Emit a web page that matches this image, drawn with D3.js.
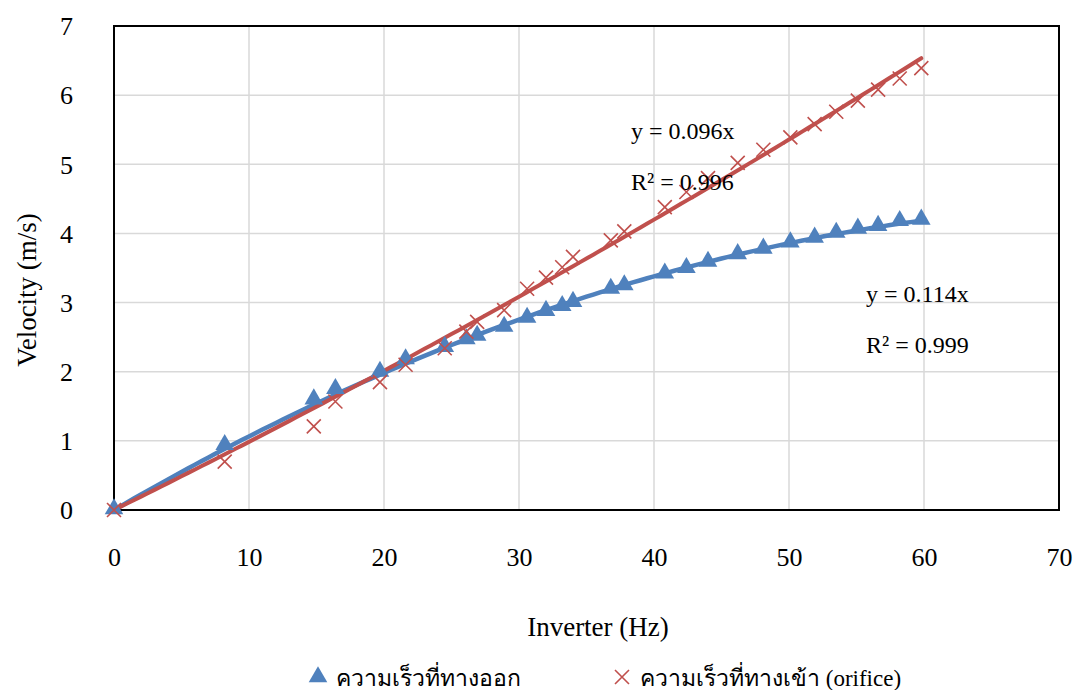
<!DOCTYPE html>
<html>
<head>
<meta charset="utf-8">
<script src="https://cdn.jsdelivr.net/npm/d3@7/dist/d3.min.js"></script>
<style>
  html, body { margin: 0; padding: 0; background: #fff; }
  svg { display: block; }
</style>
</head>
<body>
<svg id="chart" width="1078" height="690"></svg>
<script>
// Inverter frequency (Hz) for each measurement
const frequency = [0, 8.2, 14.8, 16.4, 19.7, 21.6, 24.5, 26.1, 26.9, 28.9, 30.6, 32.0, 33.2, 34.0,
  36.8, 37.8, 40.8, 42.4, 44.0, 46.2, 48.1, 50.1, 51.9, 53.5, 55.1, 56.6, 58.2, 59.8];
// Outlet velocity (m/s)
const outletVelocity = [0, 0.93, 1.59, 1.74, 1.99, 2.17, 2.35, 2.46, 2.51, 2.64, 2.77, 2.87, 2.94, 3.00,
  3.19, 3.24, 3.41, 3.49, 3.58, 3.69, 3.77, 3.86, 3.93, 4.00, 4.06, 4.10, 4.17, 4.19];
// Inlet (orifice) velocity (m/s)
const inletVelocity = [0, 0.70, 1.21, 1.57, 1.85, 2.10, 2.34, 2.58, 2.72, 2.89, 3.20, 3.36, 3.51, 3.66,
  3.90, 4.03, 4.38, 4.60, 4.80, 5.02, 5.21, 5.39, 5.58, 5.76, 5.92, 6.08, 6.24, 6.39];

const seriesNames = ["ความเร็วที่ทางออก", "ความเร็วที่ทางเข้า (orifice)"];
const xTicks = [0, 10, 20, 30, 40, 50, 60, 70];
const yTicks = [0, 1, 2, 3, 4, 5, 6, 7];
const trendLabels = [["y = 0.114x", "R² = 0.999"], ["y = 0.096x", "R² = 0.996"]];

const blue = "#4F81BD", red = "#C0504D";
const serif = "'Liberation Serif', 'Times New Roman', Tinos, serif";

const svg = d3.select("#chart");
const x = d3.scaleLinear().domain([0, 70]).range([114, 1059]);
const y = d3.scaleLinear().domain([0, 7]).range([510, 26]);

// Gridlines
svg.append("g").selectAll("line").data(yTicks).join("line")
  .attr("x1", x(0)).attr("x2", x(70))
  .attr("y1", d => y(d)).attr("y2", d => y(d))
  .attr("stroke", "#d9d9d9").attr("stroke-width", 1.5);
svg.append("g").selectAll("line").data(xTicks).join("line")
  .attr("y1", y(0)).attr("y2", y(7))
  .attr("x1", d => x(d)).attr("x2", d => x(d))
  .attr("stroke", "#d9d9d9").attr("stroke-width", 1.5);

// Plot-area frame
svg.append("rect")
  .attr("x", x(0)).attr("y", y(7))
  .attr("width", x(70) - x(0)).attr("height", y(0) - y(7))
  .attr("fill", "none").attr("stroke", "#000").attr("stroke-width", 2);

// Axes (labels only; the frame draws the lines)
const yAxis = d3.axisLeft(y).tickValues(yTicks).tickSize(0).tickPadding(0).tickFormat(d3.format("d"));
const gy = svg.append("g").attr("transform", "translate(73,0)").call(yAxis)
  .attr("font-family", null).attr("font-size", null);
gy.select(".domain").remove();
gy.selectAll("text").style("font-family", serif).style("font-size", "26px")
  .attr("fill", "#000").attr("dy", "0.34em").attr("x", 0);

const xAxis = d3.axisBottom(x).tickValues(xTicks).tickSize(0).tickPadding(0).tickFormat(d3.format("d"));
const gx = svg.append("g").attr("transform", "translate(0,566)").call(xAxis)
  .attr("font-family", null).attr("font-size", null);
gx.select(".domain").remove();
gx.selectAll("text").style("font-family", serif).style("font-size", "26px")
  .attr("fill", "#000").attr("dy", 0).attr("y", 0);

// Axis titles
svg.append("text").attr("x", 598).attr("y", 636).attr("text-anchor", "middle")
  .style("font-family", serif).style("font-size", "27px").text("Inverter (Hz)");
svg.append("text").attr("transform", "translate(36,290) rotate(-90)").attr("text-anchor", "middle")
  .style("font-family", serif).style("font-size", "27px").text("Velocity (m/s)");

// Polynomial trendline y = a·x + b·x² (intercept fixed at zero), least squares
function fitQuadThroughOrigin(xs, ys) {
  let s2 = 0, s3 = 0, s4 = 0, sxy = 0, sx2y = 0;
  xs.forEach((xi, i) => {
    const yi = ys[i];
    s2 += xi * xi; s3 += xi ** 3; s4 += xi ** 4;
    sxy += xi * yi; sx2y += xi * xi * yi;
  });
  const det = s2 * s4 - s3 * s3;
  const a = (sxy * s4 - s3 * sx2y) / det;
  const b = (s2 * sx2y - s3 * sxy) / det;
  return v => a * v + b * v * v;
}

const xMax = d3.max(frequency);
const samples = d3.range(0, xMax, 0.5).concat([xMax]);
const line = d3.line().x(d => x(d[0])).y(d => y(d[1]));

const fitOut = fitQuadThroughOrigin(frequency, outletVelocity);
const fitIn = fitQuadThroughOrigin(frequency, inletVelocity);

svg.append("path").attr("d", line(samples.map(v => [v, fitOut(v)])))
  .attr("fill", "none").attr("stroke", blue).attr("stroke-width", 4.5).attr("stroke-linecap", "round");
svg.append("path").attr("d", line(samples.map(v => [v, fitIn(v)])))
  .attr("fill", "none").attr("stroke", red).attr("stroke-width", 4).attr("stroke-linecap", "round");

// Markers
const tri = d3.symbol().type(d3.symbolTriangle).size(150);
svg.append("g").selectAll("path").data(frequency.map((f, i) => [f, outletVelocity[i]])).join("path")
  .attr("d", tri).attr("transform", d => `translate(${x(d[0])},${y(d[1]) - 1})`)
  .attr("fill", blue);

const cs = 7;
const crossPath = `M${-cs},${-cs}L${cs},${cs}M${-cs},${cs}L${cs},${-cs}`;
svg.append("g").selectAll("path").data(frequency.map((f, i) => [f, inletVelocity[i]])).join("path")
  .attr("d", crossPath)
  .attr("transform", d => `translate(${x(d[0])},${y(d[1])})`)
  .attr("fill", "none").attr("stroke", red).attr("stroke-width", 1.6);

// Trendline equations
[[631, 139, trendLabels[1]], [866, 302, trendLabels[0]]].forEach(([px, py, lbl]) => {
  svg.append("text").attr("x", px).attr("y", py)
    .style("font-family", serif).style("font-size", "24px").text(lbl[0]);
  svg.append("text").attr("x", px).attr("y", py + 51)
    .style("font-family", serif).style("font-size", "24px").text(lbl[1]);
});

// Legend
const lg = svg.append("g");
lg.append("path").attr("d", tri).attr("transform", "translate(318,677)").attr("fill", blue);
lg.append("text").attr("x", 336).attr("y", 686)
  .style("font-family", serif).style("font-size", "23px").text(seriesNames[0]);
lg.append("path").attr("d", crossPath)
  .attr("transform", "translate(622,677)").attr("fill", "none").attr("stroke", red).attr("stroke-width", 1.6);
lg.append("text").attr("x", 640).attr("y", 686)
  .style("font-family", serif).style("font-size", "23px").text(seriesNames[1]);
</script>
</body>
</html>
